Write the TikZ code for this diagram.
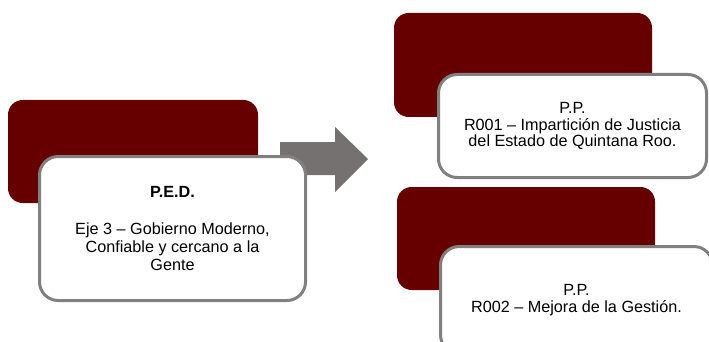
\documentclass[tikz,border=0pt]{standalone}
\usepackage{fontspec}
\setmainfont{Liberation Sans}
\definecolor{darkred}{RGB}{102,0,0}
\definecolor{boxgray}{RGB}{128,128,128}
\definecolor{arrowgray}{RGB}{118,113,113}
\tikzset{
  darkbox/.style={fill=darkred, draw=none, rounded corners=11pt, inner sep=0pt},
  whitebox/.style={fill=white, draw=boxgray, line width=2.25pt, rounded corners=14pt,
    inner sep=0pt, align=center, font=\fontsize{12.15}{12.4}\selectfont},
  bigarrow/.style={fill=arrowgray, draw=none}
}
\begin{document}
\begin{tikzpicture}[x=0.75pt, y=-0.75pt]
\useasboundingbox (0,0) rectangle (709,342);
\clip (0,0) rectangle (709,342);
\fill[white] (0,0) rectangle (709,342);
% left group
\node[darkbox, minimum width=187.5pt, minimum height=77.25pt] (d1) at (133,151.5) {};
\draw[bigarrow] (280,142) coordinate (a1) -- (335,142) -- (335,127) -- (368,159) coordinate (tip)
  -- (335,192) -- (335,175) -- (280,175) -- cycle;
\node[whitebox, minimum width=199.5pt, minimum height=108pt, font=\fontsize{12.15}{13.5}\selectfont] (w1) at (172.5,228.5)
  {\textbf{P.E.D.}\\[14pt]Eje 3 -- Gobierno Moderno,\\Confiable y cercano a la\\Gente};
% right top group
\node[darkbox, minimum width=193.5pt, minimum height=78pt] (d2) at (523,65) {};
\node[whitebox, minimum width=201pt, minimum height=77.25pt] (w2) at (572.5,126)
  {P.P.\\R001 -- Impartición de Justicia\\del Estado de Quintana Roo.};
% right bottom group
\node[darkbox, minimum width=193.5pt, minimum height=77.25pt] (d3) at (526,238.5) {};
\node[whitebox, minimum width=204pt, minimum height=80.25pt] (w3) at (576.5,300)
  {P.P.\\R002 -- Mejora de la Gestión.};
\end{tikzpicture}
\end{document}
